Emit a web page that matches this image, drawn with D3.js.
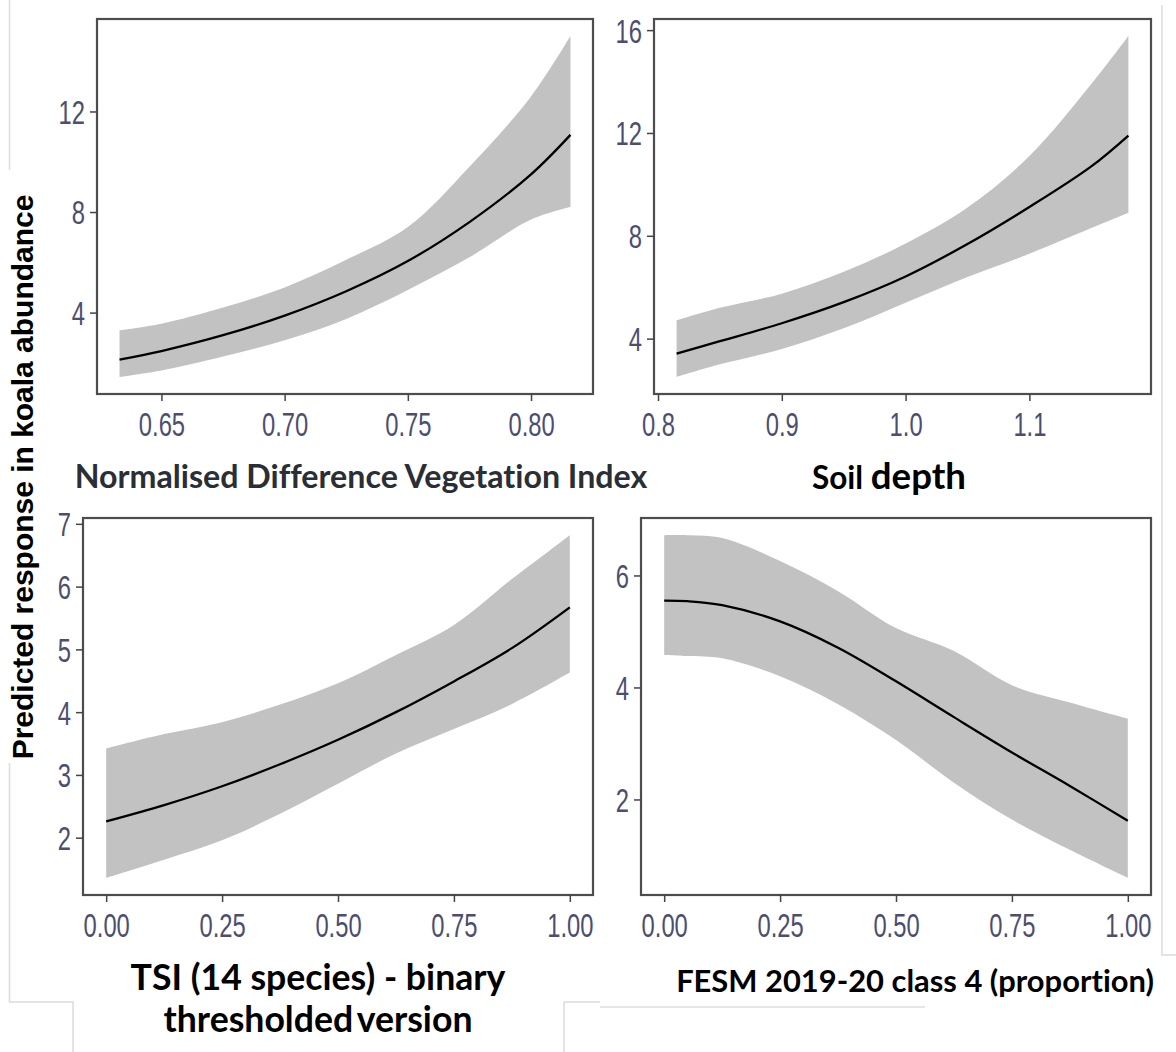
<!DOCTYPE html>
<html>
<head>
<meta charset="utf-8">
<script src="https://cdn.jsdelivr.net/npm/d3@7"></script>
<style>
  body { margin: 0; background: #fff; }
  svg { display: block; }
  text { font-variant-ligatures: none; font-feature-settings: "liga" 0; }
</style>
</head>
<body>
<script>
// --- Data ---
// NDVI panel
var ndviX   = [0.633, 0.65, 0.675, 0.70, 0.725, 0.75, 0.775, 0.80, 0.816];
var ndviFit = [2.13, 2.47, 3.10, 3.88, 4.85, 6.05, 7.60, 9.50, 11.07];
var ndviLo  = [1.44, 1.70, 2.25, 2.90, 3.75, 4.90, 6.20, 7.70, 8.20];
var ndviHi  = [3.30, 3.56, 4.20, 5.00, 6.10, 7.40, 9.80, 12.6, 15.0];
var ndviTicksX = [0.65, 0.70, 0.75, 0.80];
var ndviTicksY = [4, 8, 12];

// Soil depth panel
var soilX   = [0.815, 0.85, 0.90, 0.95, 1.00, 1.05, 1.10, 1.15, 1.18];
var soilFit = [3.42, 3.90, 4.60, 5.42, 6.42, 7.68, 9.12, 10.7, 11.9];
var soilLo  = [2.51, 3.00, 3.60, 4.40, 5.40, 6.40, 7.30, 8.30, 8.90];
var soilHi  = [4.71, 5.20, 5.75, 6.60, 7.70, 9.10, 11.1, 13.9, 15.77];
var soilTicksX = [0.8, 0.9, 1.0, 1.1];
var soilTicksY = [4, 8, 12, 16];

// TSI panel
var tsiX   = [0, 0.125, 0.25, 0.375, 0.5, 0.625, 0.75, 0.875, 1];
var tsiFit = [2.26, 2.52, 2.82, 3.17, 3.56, 4.00, 4.49, 5.02, 5.67];
var tsiLo  = [1.36, 1.65, 1.96, 2.38, 2.86, 3.34, 3.73, 4.13, 4.63];
var tsiHi  = [3.42, 3.65, 3.84, 4.12, 4.46, 4.91, 5.39, 6.12, 6.82];
var tsiTicksX = [0, 0.25, 0.5, 0.75, 1];
var tsiTicksY = [2, 3, 4, 5, 6, 7];

// FESM panel
var fesmX   = [0, 0.05, 0.125, 0.25, 0.375, 0.5, 0.625, 0.75, 0.875, 1];
var fesmFit = [5.55, 5.54, 5.47, 5.18, 4.71, 4.11, 3.47, 2.84, 2.24, 1.62];
var fesmLo  = [4.58, 4.56, 4.52, 4.20, 3.70, 3.06, 2.30, 1.64, 1.10, 0.60];
var fesmHi  = [6.72, 6.72, 6.67, 6.26, 5.72, 5.06, 4.65, 4.04, 3.73, 3.44];
var fesmTicksX = [0, 0.25, 0.5, 0.75, 1];
var fesmTicksY = [2, 4, 6];

var w = 1176, h = 1052;

var svg = d3.select("body").append("svg")
    .attr("width", w)
    .attr("height", h);

// faint screenshot edges in the original
var edges = [
    [[9.5, 0], [9.5, 170]],
    [[9.5, 763], [9.5, 1002], [73, 1002], [73, 1052]],
    [[564, 1052], [564, 1002], [600, 1002]],
    [[600, 1007], [925, 1007]],
    [[1162, 5], [1162, 955], [1176, 955]]
];
svg.selectAll(".edge")
    .data(edges)
    .enter()
    .append("path")
    .attr("class", "edge")
    .attr("d", d3.line())
    .style("fill", "none")
    .style("stroke", "#dcdcdc")
    .style("stroke-width", 1.5);

var panels = [
    { x: ndviX, fit: ndviFit, lo: ndviLo, hi: ndviHi, tx: ndviTicksX, ty: ndviTicksY,
      fmt: ".2f", left: 97, right: 593, top: 19, bottom: 394 },
    { x: soilX, fit: soilFit, lo: soilLo, hi: soilHi, tx: soilTicksX, ty: soilTicksY,
      fmt: ".1f", left: 654, right: 1151, top: 19, bottom: 394 },
    { x: tsiX, fit: tsiFit, lo: tsiLo, hi: tsiHi, tx: tsiTicksX, ty: tsiTicksY,
      fmt: ".2f", left: 83, right: 593, top: 518, bottom: 895 },
    { x: fesmX, fit: fesmFit, lo: fesmLo, hi: fesmHi, tx: fesmTicksX, ty: fesmTicksY,
      fmt: ".2f", left: 641, right: 1151, top: 518, bottom: 895 }
];

// ggplot style 5% expansion
function expand(ext) {
    var pad = (ext[1] - ext[0]) * 0.05;
    return [ext[0] - pad, ext[1] + pad];
}

// narrow look: Liberation Sans squeezed horizontally
var tickFont = "'Liberation Sans', Arial, sans-serif";

panels.forEach(function(p) {
    var rows = p.x.map(function(v, i) {
        return { x: v, fit: p.fit[i], lo: p.lo[i], hi: p.hi[i] };
    });

    var x = d3.scaleLinear()
        .domain(expand(d3.extent(p.x)))
        .range([p.left, p.right]);
    var y = d3.scaleLinear()
        .domain(expand([d3.min(p.lo), d3.max(p.hi)]))
        .range([p.bottom, p.top]);

    var g = svg.append("g");

    var band = d3.area()
        .x(function(d) { return x(d.x); })
        .y0(function(d) { return y(d.lo); })
        .y1(function(d) { return y(d.hi); })
        .curve(d3.curveCatmullRom);

    var line = d3.line()
        .x(function(d) { return x(d.x); })
        .y(function(d) { return y(d.fit); })
        .curve(d3.curveCatmullRom);

    g.append("path")
        .datum(rows)
        .attr("d", band)
        .style("fill", "#c2c2c2");

    g.append("path")
        .datum(rows)
        .attr("d", line)
        .style("fill", "none")
        .style("stroke", "#000")
        .style("stroke-width", 2.3);

    g.append("rect")
        .attr("x", p.left)
        .attr("y", p.top)
        .attr("width", p.right - p.left)
        .attr("height", p.bottom - p.top)
        .style("fill", "none")
        .style("stroke", "#4d4d4d")
        .style("stroke-width", 2.2);

    var xAxis = g.append("g")
        .attr("transform", "translate(0," + p.bottom + ")")
        .call(d3.axisBottom(x)
            .tickValues(p.tx)
            .tickFormat(d3.format(p.fmt))
            .tickSize(7)
            .tickPadding(13));

    var yAxis = g.append("g")
        .attr("transform", "translate(" + p.left + ",0)")
        .call(d3.axisLeft(y)
            .tickValues(p.ty)
            .tickFormat(d3.format("d"))
            .tickSize(7)
            .tickPadding(5));

    [xAxis, yAxis].forEach(function(a) {
        a.select(".domain").remove();
        a.selectAll(".tick line")
            .style("stroke", "#444")
            .style("stroke-width", 1.5);
        a.selectAll(".tick text")
            .style("font-family", tickFont)
            .style("font-size", "33px")
            .style("fill", "#4c4e70")
            .each(function() {
                var len = this.getComputedTextLength();
                d3.select(this)
                    .attr("textLength", len * 0.72)
                    .attr("lengthAdjust", "spacingAndGlyphs");
            });
    });
    xAxis.selectAll(".tick text").attr("dy", "0.68em");
    yAxis.selectAll(".tick text").attr("dy", "0.36em");
});

// --- Titles ---
function fitWidth(sel, target) {
    var base = 20;
    sel.style("font-size", base + "px");
    var len = sel.node().getComputedTextLength();
    var size = base * target / len;
    sel.style("font-size", size + "px");
    return size;
}

var yTitle = svg.append("text")
    .attr("transform", "translate(33,477) rotate(-90)")
    .attr("text-anchor", "middle")
    .style("font-family", "'Liberation Sans', Arial, sans-serif")
    .style("font-weight", "bold")
    .style("fill", "#000")
    .text("Predicted response in koala abundance");
fitWidth(yTitle, 565);

var titleFont = "Lato, 'Noto Sans', sans-serif";

var t1 = svg.append("text")
    .attr("x", 361)
    .attr("y", 488)
    .attr("text-anchor", "middle")
    .style("font-family", titleFont)
    .style("font-weight", "bold")
    .style("fill", "#2a2e35")
    .text("Normalised Difference Vegetation Index");
fitWidth(t1, 573);

var t2 = svg.append("text")
    .attr("x", 889)
    .attr("y", 489)
    .attr("text-anchor", "middle")
    .style("font-family", titleFont)
    .style("font-weight", "bold")
    .style("fill", "#000");
t2.append("tspan").style("font-size", "0.86em").text("Soil ");
t2.append("tspan").text("depth");
fitWidth(t2, 154);

var t3a = svg.append("text")
    .attr("x", 318)
    .attr("y", 990)
    .attr("text-anchor", "middle")
    .style("font-family", titleFont)
    .style("font-weight", "bold")
    .style("fill", "#000")
    .text("TSI (14 species) - binary");
var s3 = fitWidth(t3a, 375);

svg.append("text")
    .attr("x", 318)
    .attr("y", 1032)
    .attr("text-anchor", "middle")
    .style("font-family", titleFont)
    .style("font-weight", "bold")
    .style("font-size", s3 + "px")
    .style("word-spacing", "-0.12em")
    .style("fill", "#000")
    .text("thresholded version");

var t4 = svg.append("text")
    .attr("x", 915)
    .attr("y", 992)
    .attr("text-anchor", "middle")
    .style("font-family", titleFont)
    .style("font-weight", "bold")
    .style("fill", "#000")
    .text("FESM 2019-20 class 4 (proportion)");
fitWidth(t4, 478);
</script>
</body>
</html>
